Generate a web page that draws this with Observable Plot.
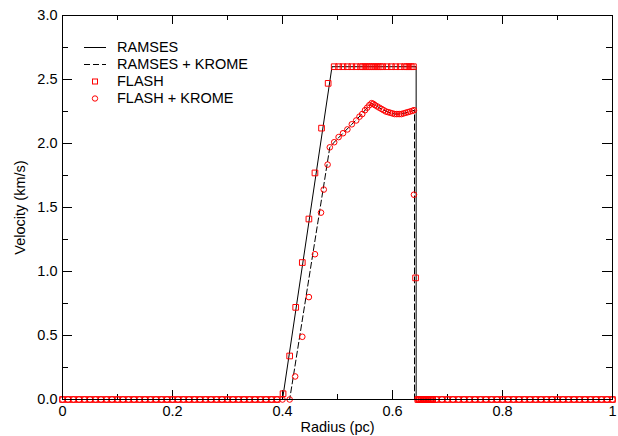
<!DOCTYPE html>
<html><head><meta charset="utf-8">
<script src="https://cdn.jsdelivr.net/npm/d3@7"></script>
<script src="https://cdn.jsdelivr.net/npm/@observablehq/plot@0.6"></script>
<style>
body{margin:0;background:#fff;}
#wrap{position:relative;width:618px;height:436px;font-family:"Liberation Sans",Arial,sans-serif;}
#legend{position:absolute;left:83px;top:39px;font-size:14.5px;color:#000;}
#legend .row{height:17px;line-height:17px;display:flex;align-items:center;}
#legend svg{width:24px;height:17px;margin-right:10px;}
</style></head><body>
<div id="wrap"><div id="chart"></div><div id="legend"></div></div>
<script>
// ---- data ----
const xTicks = [0, 0.2, 0.4, 0.6, 0.8, 1];
const xTickLabels = ["0", "0.2", "0.4", "0.6", "0.8", "1"];
const xMinor = [0.1, 0.3, 0.5, 0.7, 0.9];
const yTicks = [0, 0.5, 1, 1.5, 2, 2.5, 3];
const yTickLabels = ["0.0", "0.5", "1.0", "1.5", "2.0", "2.5", "3.0"];
const yMinor = [0.25, 0.75, 1.25, 1.75, 2.25, 2.75];

// RAMSES (solid)
const ramsesR = [0, 0.400, 0.490, 0.643, 0.643, 1];
const ramsesV = [0, 0, 2.6, 2.6, 0, 0];
// RAMSES + KROME (dashed)
const ramsesKromeR = [0, 0.413, 0.486, 0.494, 0.510, 0.526, 0.542, 0.554, 0.562, 0.568, 0.580, 0.592, 0.604, 0.616, 0.628, 0.640, 0.640, 1];
const ramsesKromeV = [0, 0, 1.97, 2.01, 2.08, 2.15, 2.22, 2.28, 2.315, 2.30, 2.27, 2.245, 2.23, 2.23, 2.245, 2.26, 0, 0];

// quiescent (zero-velocity) cells shared by both FLASH runs
const zeroLeftR = [0,0.01,0.02,0.03,0.04,0.05,0.06,0.07,0.08,0.09,0.10,0.11,0.12,0.13,0.14,0.15,0.16,0.17,0.18,0.19,0.20,0.21,0.22,0.23,0.24,0.25,0.26,0.27,0.28,0.29,0.30,0.31,0.32,0.33,0.34,0.35,0.36,0.37,0.38,0.39];
const zeroRightR = [0.646,0.649,0.652,0.655,0.658,0.661,0.664,0.667,0.670,0.673,0.68,0.69,0.70,0.71,0.72,0.73,0.74,0.75,0.76,0.77,0.78,0.79,0.80,0.81,0.82,0.83,0.84,0.85,0.86,0.87,0.88,0.89,0.90,0.91,0.92,0.93,0.94,0.95,0.96,0.97,0.98,0.99,1.00];

// FLASH (squares), active cells
const flashR = [0.401,0.413,0.424,0.436,0.448,0.459,0.471,0.483,0.494,0.502,0.510,0.518,0.526,0.534,0.542,0.546,0.550,0.554,0.558,0.562,0.566,0.570,0.574,0.578,0.582,0.590,0.598,0.606,0.614,0.622,0.626,0.630,0.634,0.638,0.642];
const flashV = [0.045,0.34,0.72,1.07,1.41,1.77,2.12,2.47,2.6,2.6,2.6,2.6,2.6,2.6,2.6,2.6,2.6,2.6,2.6,2.6,2.6,2.6,2.6,2.6,2.6,2.6,2.6,2.6,2.6,2.6,2.6,2.6,2.6,2.6,0.95];

// FLASH + KROME (circles), active cells
const flashKromeR = [0.40,0.413,0.423,0.436,0.448,0.459,0.470,0.475,0.482,0.486,0.494,0.502,0.510,0.518,0.526,0.534,0.540,0.545,0.550,0.554,0.558,0.562,0.565,0.568,0.572,0.576,0.580,0.584,0.588,0.592,0.596,0.600,0.604,0.608,0.612,0.616,0.620,0.624,0.628,0.632,0.636,0.639,0.639];
const flashKromeV = [0,0,0.18,0.49,0.80,1.135,1.46,1.64,1.835,1.97,2.01,2.05,2.08,2.11,2.15,2.18,2.21,2.23,2.26,2.28,2.30,2.315,2.31,2.30,2.29,2.28,2.27,2.26,2.25,2.245,2.24,2.235,2.23,2.23,2.23,2.23,2.235,2.24,2.245,2.25,2.255,2.26,1.60];

// ---- build ----
const zeroR = zeroLeftR.concat(zeroRightR);
const fR = zeroR.concat(flashR), fV = zeroR.map(() => 0).concat(flashV);
const fkR = zeroR.concat(flashKromeR), fkV = zeroR.map(() => 0).concat(flashKromeV);

const W = 618, H = 436, mL = 62, mR = 6, mT = 15, mB = 37;
const pW = W - mL - mR, pH = H - mT - mB;
const red = "#ff0000";

const chart = Plot.plot({
  width: W, height: H,
  marginLeft: mL, marginRight: mR, marginTop: mT, marginBottom: mB,
  style: {fontFamily: "Liberation Sans, Arial, sans-serif", fontSize: "14.5px", color: "#000", background: "#fff", overflow: "visible"},
  x: {domain: [0, 1]},
  y: {domain: [0, 3]},
  marks: [
    // inward ticks on all four sides
    Plot.tickX(xTicks, {x: d => d, insetTop: pH - 9, stroke: "#000"}),
    Plot.tickX(xTicks, {x: d => d, insetBottom: pH - 9, stroke: "#000"}),
    Plot.tickX(xMinor, {x: d => d, insetTop: pH - 5, stroke: "#000"}),
    Plot.tickX(xMinor, {x: d => d, insetBottom: pH - 5, stroke: "#000"}),
    Plot.tickY(yTicks, {y: d => d, insetRight: pW - 10, stroke: "#000"}),
    Plot.tickY(yTicks, {y: d => d, insetLeft: pW - 10, stroke: "#000"}),
    Plot.tickY(yMinor, {y: d => d, insetRight: pW - 6, stroke: "#000"}),
    Plot.tickY(yMinor, {y: d => d, insetLeft: pW - 6, stroke: "#000"}),
    Plot.axisX({ticks: xTicks, tickSize: 0, tickPadding: 6, tickFormat: d => xTickLabels[xTicks.indexOf(d)],
      label: "Radius (pc)", labelAnchor: "center", labelOffset: 32, labelArrow: "none"}),
    Plot.axisY({ticks: yTicks, tickSize: 0, tickPadding: 5, tickFormat: d => yTickLabels[yTicks.indexOf(d)],
      label: "Velocity (km/s)", labelAnchor: "center", labelOffset: 48, labelArrow: "none"}),
    Plot.line(ramsesV, {x: ramsesR, y: ramsesV, stroke: "#000", strokeWidth: 1}),
    Plot.line(ramsesKromeV, {x: ramsesKromeR, y: ramsesKromeV, stroke: "#000", strokeWidth: 1, strokeDasharray: "6,3"}),
    Plot.dot(fV, {x: fR, y: fV, symbol: "square", r: 3.2, stroke: red, strokeWidth: 1, fill: "none"}),
    Plot.dot(fkV, {x: fkR, y: fkV, symbol: "circle", r: 2.8, stroke: red, strokeWidth: 1, fill: "none"}),
    Plot.frame({stroke: "#000", strokeWidth: 1})
  ]
});
document.getElementById("chart").appendChild(chart);

// legend
const legendItems = [
  {label: "RAMSES", kind: "solid"},
  {label: "RAMSES + KROME", kind: "dashed"},
  {label: "FLASH", kind: "square"},
  {label: "FLASH + KROME", kind: "circle"}
];
const lg = document.getElementById("legend");
for (const it of legendItems) {
  let g = "";
  if (it.kind === "solid") g = '<line x1="1" x2="23" y1="8.5" y2="8.5" stroke="#000"/>';
  if (it.kind === "dashed") g = '<line x1="1" x2="23" y1="8.5" y2="8.5" stroke="#000" stroke-dasharray="6,3"/>';
  if (it.kind === "square") g = '<rect x="9.5" y="6" width="5" height="5" fill="none" stroke="' + red + '"/>';
  if (it.kind === "circle") g = '<circle cx="12" cy="8.5" r="2.7" fill="none" stroke="' + red + '"/>';
  lg.insertAdjacentHTML("beforeend", '<div class="row"><svg viewBox="0 0 24 17">' + g + '</svg><span>' + it.label + '</span></div>');
}
</script></body></html>
